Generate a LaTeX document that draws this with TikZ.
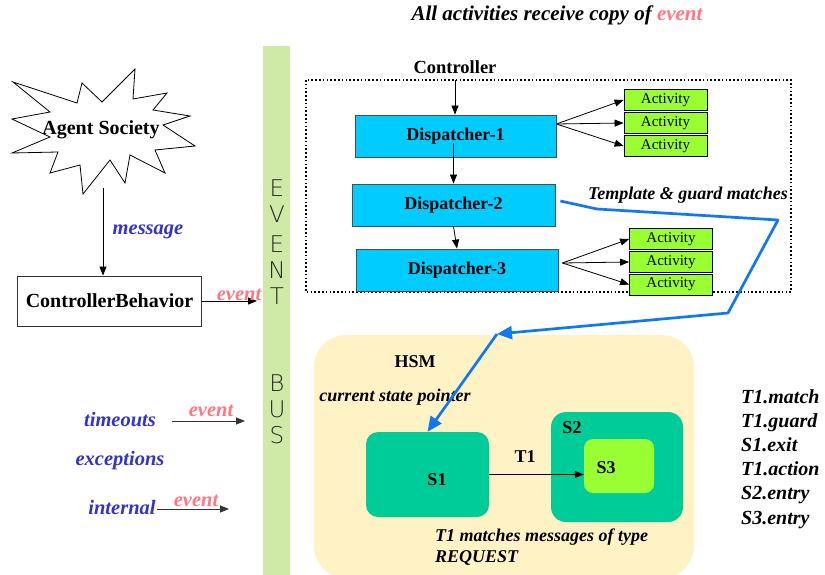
\documentclass[tikz,border=0pt]{standalone}
\usepackage{fontspec}
\setmainfont{Liberation Serif}
\newfontfamily\busfont{DejaVu Sans ExtraLight}
\usetikzlibrary{arrows.meta}
\definecolor{busgreen}{RGB}{206,234,166}
\definecolor{dispcyan}{RGB}{0,204,255}
\definecolor{actgreen}{RGB}{153,255,51}
\definecolor{hsmyellow}{RGB}{255,242,196}
\definecolor{stateteal}{RGB}{0,204,153}
\definecolor{txtblue}{RGB}{51,51,204}
\definecolor{evpink}{RGB}{255,120,128}
\definecolor{linkblue}{RGB}{16,120,240}
\begin{document}
\begin{tikzpicture}[x=1pt,y=-1pt,
  arr/.style={-{Triangle[length=9pt,width=7pt]}, line width=0.8pt},
  bf/.style={font=\bfseries\fontsize{#1}{#1}\selectfont, inner sep=0pt},
  bi/.style={font=\bfseries\itshape\fontsize{#1}{#1}\selectfont, inner sep=0pt},
  bluetxt/.style={bi=20.5, text=txtblue},
  evtxt/.style={bi=20.5, text=evpink},
  disp/.style={draw=black!70, line width=0.8pt, fill=dispcyan, minimum width=201pt, minimum height=42pt, font=\bfseries\fontsize{18}{18}\selectfont},
  act/.style={draw=black, line width=0.8pt, fill=actgreen, minimum width=83pt, minimum height=21pt, inner sep=0pt, font=\fontsize{15}{15}\selectfont},
  busl/.style={font=\busfont\fontsize{23}{23}\selectfont, text=black!85, inner sep=0pt},
  state/.style={fill=stateteal, inner sep=0pt},
  bl/.style={draw=linkblue, line width=2.7pt, line join=round},
  bltip/.style={-{Triangle[length=15pt,width=13pt]}},
]
\useasboundingbox (0,0) rectangle (825,575);

% title
\node[bi=21] (title) at (557,15) {All activities receive copy of \textcolor{evpink}{event}};

% event bus
\fill[busgreen] (263,46) rectangle (290,578);
\foreach \l/\y [count=\i] in {E/188,V/214,E/244,N/270,T/296,B/383,U/409,S/435}
  \node[busl] (bus\i) at (277,\y) {\l};

% agent society starburst
\draw[line width=0.8pt, fill=white] (13,82) -- (77,103) -- (82,83) -- (102,102) -- (135,69) -- (133,99)
  -- (167,93) -- (153,110) -- (190,116) -- (163,125) -- (195,146) -- (155,150) -- (165,173)
  -- (130,155) -- (125,183) -- (110,160) -- (83,194) -- (80,165) -- (50,173) -- (58,152)
  -- (12,153) -- (50,137) -- (12,119) -- (50,112) -- cycle;
\node[bf=20] (as) at (101,130) {Agent Society};
\coordinate (asb) at (103,188);

% controller behavior
\node[draw=black!80, line width=0.8pt, fill=white, minimum width=184pt, minimum height=50pt, font=\bfseries\fontsize{20}{20}\selectfont] (cb) at (109.5,301) {ControllerBehavior};
\draw[arr] (asb) -- (asb |- cb.north);
\node[bluetxt] (msg) at (148,232) {message};
\coordinate (cbe) at (257,301);
\draw[arr] (cb.east) -- (cbe);
\node[evtxt] (ev1) at (239,295) {event};

% timeouts etc
\node[bluetxt] (to) at (120,420) {timeouts};
\node[bluetxt] (ex) at (120,461) {exceptions};
\node[bluetxt] (in) at (122,507) {internal};
\coordinate (toa) at (172,421);
\coordinate (tob) at (245,421);
\draw[arr, black!80] (toa) -- (tob);
\node[evtxt] (ev2) at (211,411) {event};
\coordinate (ina) at (157,509);
\coordinate (inb) at (229,509);
\draw[arr, black!80] (ina) -- (inb);
\node[evtxt] (ev3) at (196,501) {event};

% controller
\draw[line width=1.6pt, dash pattern=on 1.6pt off 2.2pt] (306,80) rectangle (791,292);
\node[bf=18.5] (ctrl) at (455,67) {Controller};
\node[disp] (d1) at (455.5,136) {Dispatcher-1};
\node[disp, minimum width=203pt] (d2) at (453.5,205) {Dispatcher-2};
\node[disp, minimum width=202pt] (d3) at (457,270) {Dispatcher-3};
\draw[arr] (ctrl.south |- 0,80) -- (ctrl.south |- d1.north);
\draw[arr] (d2.north |- 0,143) -- (d2.north);
\draw[arr] (d2.south) -- (d3.north);

\node[act] (a11) at (665.5,100) {Activity};
\node[act] (a12) at (665.5,123) {Activity};
\node[act] (a13) at (665.5,146) {Activity};
\node[act] (a21) at (671,239) {Activity};
\node[act] (a22) at (671,262) {Activity};
\node[act] (a23) at (671,284.5) {Activity};
\coordinate (d1o) at ([yshift=12pt]d1.east);
\coordinate (d3o) at ([shift={(4pt,7pt)}]d3.east);
\foreach \t in {a11,a12,a13} \draw[arr] (d1o) -- (\t.west);
\foreach \t in {a21,a22,a23} \draw[arr] (d3o) -- (\t.west);

\node[bi=18] (tgm) at (688,195) {Template \& guard matches};

% HSM
\node[fill=hsmyellow, rounded corners=32pt, minimum width=380pt, minimum height=243pt, inner sep=0pt] (hsm) at (504,456.5) {};
\node[bf=18] (hsml) at (415,362) {HSM};
\node[bi=18] (csp) at (395,397) {current state pointer};
\node[state, rounded corners=12pt, minimum width=123pt, minimum height=85pt] (s1) at (427.5,474.5) {};
\node[bf=18] (s1l) at (437,480) {S1};
\node[state, rounded corners=15pt, minimum width=132pt, minimum height=110pt] (s2) at (617,467) {};
\node[bf=18] (s2l) at (572,428) {S2};
\node[fill=actgreen, rounded corners=9pt, minimum width=70pt, minimum height=54pt, inner sep=0pt] (s3) at (619,466) {};
\node[bf=18] (s3l) at (606,468) {S3};
\draw[arr] (s1.east) -- (s1.east -| s3.west);
\node[bf=18] (t1) at (525,457) {T1};
\node[align=left, anchor=north west, font=\bfseries\itshape\fontsize{18}{20.5}\selectfont, inner sep=0pt] (t1m) at (435,529) {T1 matches messages of type\\REQUEST};

% blue pointer
\coordinate (b0) at ([shift={(5pt,4pt)}]d2.east);
\coordinate (b1) at (597,209);
\coordinate (b2) at (778,220);
\coordinate (b3) at (728,313);
\coordinate (hp) at (497,334);
\draw[bl, bltip] (b0) -- (b1) -- (b2) -- (b3) -- (hp);
\draw[bl, bltip] (hp) -- (s1.north);

% sequence
\node[anchor=north west, align=left, font=\bfseries\itshape\fontsize{20}{24.2}\selectfont, inner sep=0pt] (seq) at (741,389)
  {T1.match\\T1.guard\\S1.exit\\T1.action\\S2.entry\\S3.entry};
\end{tikzpicture}
\end{document}
